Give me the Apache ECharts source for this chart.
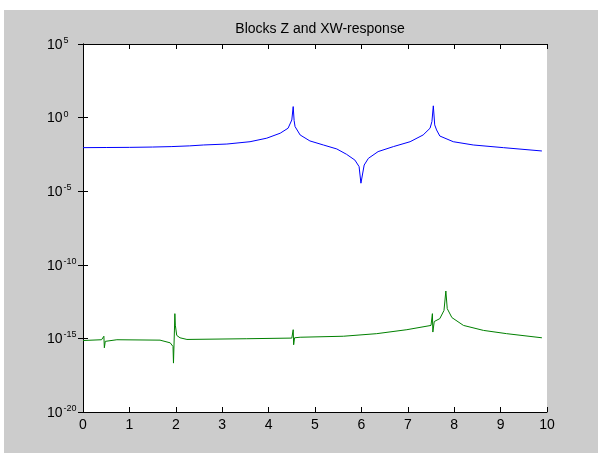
<!DOCTYPE html>
<html>
<head>
<meta charset="utf-8">
<script src="https://cdn.jsdelivr.net/npm/echarts@6/dist/echarts.min.js"></script>
<style>
html,body{margin:0;padding:0;background:#fff;}
#bg{position:absolute;left:4px;top:10px;width:594px;height:443px;background:#cccccc;}
#chart{position:absolute;left:0;top:0;width:598px;height:455px;}
</style>
</head>
<body>
<div id="bg"></div>
<div id="chart"></div>
<script>
var titleText = 'Blocks Z and XW-response';
var xTicks = [0,1,2,3,4,5,6,7,8,9,10];
var yTickExponents = [-20,-15,-10,-5,0,5];

// Blue curve (Z block response)
var blueX = [0, 0.5, 1.0, 1.5, 1.9, 2.3, 2.6, 3.1, 3.6, 3.96, 4.25, 4.42, 4.50, 4.53, 4.55, 4.57, 4.68, 4.89, 5.18, 5.47, 5.68, 5.86, 5.95, 5.99, 6.06, 6.15, 6.36, 6.69, 7.05, 7.33, 7.48, 7.52, 7.55, 7.58, 7.62, 7.69, 7.98, 8.41, 9.06, 9.89];
var blueY = [9.1e-3, 9.3e-3, 9.5e-3, 1.0e-2, 1.07e-2, 1.2e-2, 1.38e-2, 1.6e-2, 2.3e-2, 4.0e-2, 8.7e-2, 0.19, 0.69, 5.6, 0.63, 0.245, 6.6e-2, 2.6e-2, 1.38e-2, 7.4e-3, 3.2e-3, 1.3e-3, 4.7e-4, 3.5e-5, 6.0e-4, 1.7e-3, 4.9e-3, 1.07e-2, 2.3e-2, 6.6e-2, 0.19, 0.54, 6.3, 0.32, 0.145, 5.6e-2, 2.3e-2, 1.38e-2, 9.1e-3, 5.4e-3];

// Green curve (XW response)
var greenX = [0, 0.40, 0.44, 0.45, 0.46, 0.48, 0.73, 1.66, 1.88, 1.94, 1.95, 1.97, 1.98, 1.99, 2.02, 2.09, 2.24, 3.53, 4.50, 4.53, 4.54, 4.56, 4.68, 5.61, 6.33, 6.98, 7.50, 7.53, 7.54, 7.57, 7.69, 7.78, 7.82, 7.85, 7.95, 8.2, 8.63, 9.13, 9.89];
var greenY = [7.2e-16, 8.1e-16, 8.7e-16, 1.4e-15, 2.3e-16, 6.3e-16, 8.1e-16, 7.6e-16, 5.0e-16, 2.8e-16, 2.1e-17, 3.2e-15, 4.8e-14, 7.9e-15, 1.6e-15, 1.1e-15, 8.5e-16, 9.5e-16, 1.05e-15, 3.9e-15, 3.7e-16, 1.1e-15, 1.2e-15, 1.4e-15, 2.1e-15, 3.9e-15, 7.6e-15, 4.8e-14, 2.7e-15, 1.4e-14, 2.2e-14, 7.9e-14, 1.66e-12, 1.05e-13, 2.6e-14, 7.6e-15, 3.5e-15, 2.1e-15, 1.1e-15];

function pairs(xs, ys){ var out=[]; for(var i=0;i<xs.length;i++) out.push([xs[i], ys[i]]); return out; }

var tickFont = "'Liberation Sans', Arial, sans-serif";
var chart = echarts.init(document.getElementById('chart'));
var axisLineStyle = {color:'#000', width:1};
chart.setOption({
  animation:false,
  title:{text:titleText, left:315, top:17, textAlign:'center',
    textStyle:{fontFamily:"'Liberation Sans', Arial, sans-serif", fontSize:14, fontWeight:'normal', color:'#000'}},
  grid:{left:83, top:44, width:464, height:368, show:true, backgroundColor:'#fff', borderWidth:0},
  xAxis:[{
    type:'value', min:xTicks[0], max:xTicks[xTicks.length-1], interval:1, position:'bottom',
    axisLine:{show:true, lineStyle:axisLineStyle}, axisTick:{inside:true, length:5, lineStyle:axisLineStyle},
    splitLine:{show:false},
    axisLabel:{margin:6, color:'#000', fontFamily:tickFont, fontSize:14}
  },{
    type:'value', min:xTicks[0], max:xTicks[xTicks.length-1], interval:1, position:'top',
    axisLine:{show:true, onZero:false, lineStyle:axisLineStyle}, axisTick:{inside:true, length:5, lineStyle:axisLineStyle},
    splitLine:{show:false}, axisLabel:{show:false}
  }],
  yAxis:[{
    type:'log', logBase:10, min:Math.pow(10,yTickExponents[0]), max:Math.pow(10,yTickExponents[yTickExponents.length-1]), interval:5, position:'left',
    axisLine:{show:true, lineStyle:axisLineStyle}, axisTick:{inside:true, length:5, lineStyle:axisLineStyle},
    splitLine:{show:false},
    axisLabel:{margin:36, align:'left', color:'#000',
      formatter:function(v){ var e=Math.round(Math.log10(v)); return '{b|10}{e|'+e+'}'; },
      rich:{
        b:{fontFamily:tickFont, fontSize:14, color:'#000', verticalAlign:'bottom', lineHeight:16},
        e:{fontFamily:tickFont, fontSize:9, color:'#000', verticalAlign:'top', lineHeight:10, padding:[0,0,0,1]}
      }}
  },{
    type:'log', logBase:10, min:Math.pow(10,yTickExponents[0]), max:Math.pow(10,yTickExponents[yTickExponents.length-1]), interval:5, position:'right',
    axisLine:{show:true, lineStyle:axisLineStyle}, axisTick:{inside:true, length:5, lineStyle:axisLineStyle},
    splitLine:{show:false}, axisLabel:{show:false}
  }],
  series:[
    {type:'line', xAxisIndex:0, yAxisIndex:0, data:pairs(blueX, blueY), showSymbol:false, symbol:'none',
     lineStyle:{color:'#0000ff', width:1}, itemStyle:{color:'#0000ff'}},
    {type:'line', xAxisIndex:0, yAxisIndex:0, data:pairs(greenX, greenY), showSymbol:false, symbol:'none',
     lineStyle:{color:'#008000', width:1}, itemStyle:{color:'#008000'}}
  ]
});
</script>
</body>
</html>
